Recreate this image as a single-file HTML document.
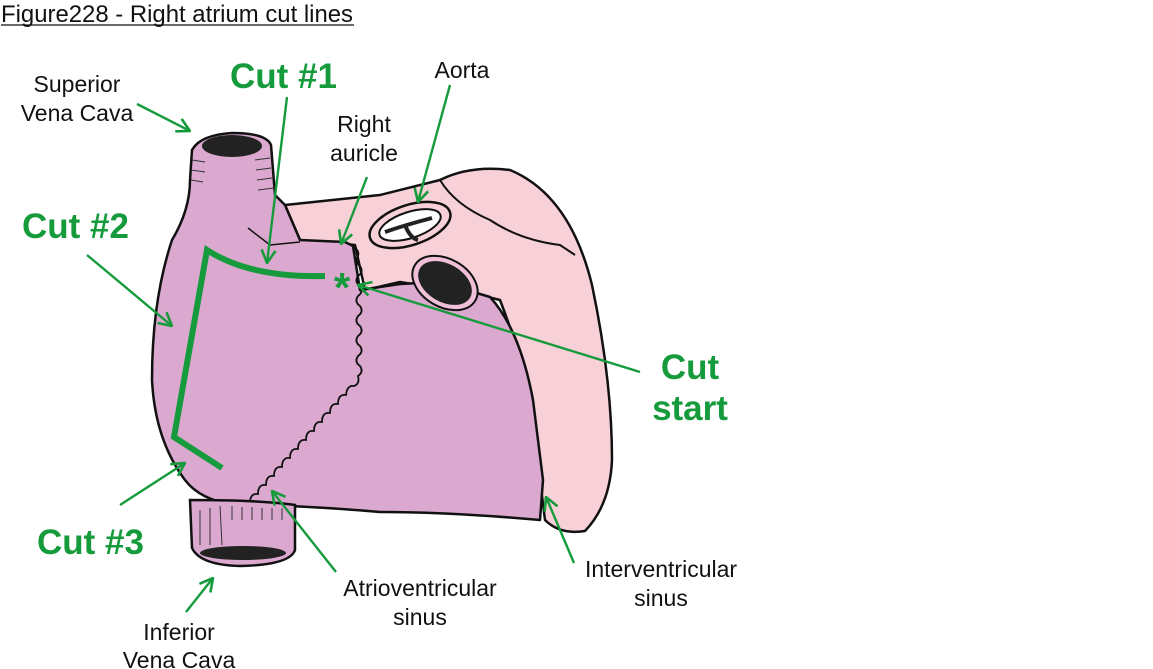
<!DOCTYPE html>
<html><head><meta charset="utf-8"><style>
html,body{margin:0;padding:0;background:#fff;}
svg{display:block;}
text{font-family:"Liberation Sans",Arial,sans-serif;}
</style></head><body>
<svg width="1153" height="669" viewBox="0 0 1153 669" xmlns="http://www.w3.org/2000/svg">
<defs>
<marker id="ah" viewBox="0 0 16 16" refX="15" refY="8" markerWidth="16" markerHeight="16" orient="auto" markerUnits="userSpaceOnUse">
<path d="M2,1 L15,8 L2,15" fill="none" stroke="#169b3c" stroke-width="2.6"/>
</marker>
</defs>
<text x="1" y="22" font-size="24" fill="#111" textLength="352" lengthAdjust="spacingAndGlyphs">Figure228 - Right atrium cut lines</text>
<line x1="1" y1="25" x2="354" y2="25" stroke="#111" stroke-width="1.3"/>

<!-- pink ventricle -->
<path d="M285,205 L380,195 L440,180 Q470,165 510,170 Q570,195 592,285 Q612,380 612,460 Q610,505 585,531 Q560,535 545,520 L540,480 Q535,390 500,300 L480,295 L400,282 L365,290 L355,245 L300,240 Z" fill="#f8d0d8" stroke="#111" stroke-width="2.5" stroke-linejoin="round"/>
<path d="M440,180 Q455,205 490,220 Q520,240 560,245 L575,255" fill="none" stroke="#111" stroke-width="2"/>
<!-- purple body -->
<path d="M192,150 Q200,135 232,133 Q266,133 271,145 L275,195 L285,205 L300,240 L345,242 L353,246 L360,290 L400,284 L440,282 L490,297 Q520,330 533,400 L543,480 L540,520 Q450,512 380,512 Q300,505 235,505 Q200,500 185,480 Q155,440 152,380 Q152,300 172,240 Q190,210 190,180 Z" fill="#dba9cf" stroke="#111" stroke-width="2.5" stroke-linejoin="round"/>
<!-- wavy AV line -->
<path d="M352,246 q8,4 6,10 q-4,6 2,10 q4,6 -2,10 q-4,6 2,10 q4,6 -2,10 q-4,6 2,10 q4,6 -2,10 q-4,6 2,10 q4,6 -2,10 q-4,6 2,10 q4,6 -2,10 q-4,6 2,10 q4,6 -2,10 q2,8 -4,10 q-7,-1 -8,9 q-8,-1 -8,9 q-8,-1 -8,9 q-8,-1 -8,9 q-8,-1 -8,9 q-8,-1 -8,9 q-8,-1 -8,9 q-8,-1 -8,9 q-8,-1 -8,9 q-8,-1 -8,9 q-8,-1 -8,9 q-8,-1 -8,9 q-8,-1 -8,9 q-8,-1 -8,9" fill="none" stroke="#111" stroke-width="1.8"/>
<path d="M248,228 L270,245 L300,242" fill="none" stroke="#111" stroke-width="1.5"/>
<!-- IVC -->
<path d="M190,500 L192,548 Q200,565 240,566 Q290,565 295,550 L295,505 Q260,500 190,500 Z" fill="#dba9cf" stroke="#111" stroke-width="2.5"/>
<ellipse cx="243" cy="553" rx="43" ry="7" fill="#222"/>
<g stroke="#333" stroke-width="1">
<line x1="200" y1="510" x2="200" y2="545"/><line x1="210" y1="508" x2="210" y2="545"/><line x1="220" y1="506" x2="222" y2="545"/><line x1="232" y1="506" x2="232" y2="520"/><line x1="242" y1="507" x2="242" y2="520"/><line x1="252" y1="507" x2="252" y2="520"/><line x1="262" y1="508" x2="262" y2="520"/><line x1="272" y1="508" x2="272" y2="520"/><line x1="282" y1="508" x2="282" y2="520"/>
</g>
<!-- SVC top -->
<ellipse cx="232" cy="146" rx="30" ry="11" fill="#222"/>
<g stroke="#333" stroke-width="1">
<line x1="192" y1="160" x2="205" y2="162"/><line x1="191" y1="170" x2="205" y2="172"/><line x1="191" y1="180" x2="203" y2="182"/><line x1="255" y1="160" x2="270" y2="158"/><line x1="256" y1="170" x2="271" y2="168"/><line x1="257" y1="180" x2="272" y2="178"/><line x1="258" y1="190" x2="274" y2="188"/>
</g>
<!-- aorta -->
<ellipse cx="410" cy="225" rx="42" ry="20" transform="rotate(-18 410 225)" fill="#f8d0d8" stroke="#111" stroke-width="2.5"/>
<ellipse cx="410" cy="225" rx="32" ry="13" transform="rotate(-18 410 225)" fill="#fff" stroke="#111" stroke-width="2"/>
<path d="M385,232 Q405,225 432,218 M405,225 Q410,238 418,240" fill="none" stroke="#222" stroke-width="4"/>
<!-- pulmonary -->
<ellipse cx="445" cy="283" rx="35" ry="24" transform="rotate(30 445 283)" fill="#f0c0d8" stroke="#111" stroke-width="2"/>
<ellipse cx="445" cy="283" rx="29" ry="19" transform="rotate(30 445 283)" fill="#222"/>

<!-- cut lines -->
<path d="M325,276 Q250,278 207,250 L174,437 L222,468" fill="none" stroke="#169b3c" stroke-width="6" stroke-linejoin="miter"/>
<text x="342" y="302" font-size="42" font-weight="bold" fill="#169b3c" text-anchor="middle">*</text>

<!-- arrows -->
<g stroke="#169b3c" stroke-width="2.4" fill="none" marker-end="url(#ah)">
<line x1="137" y1="104" x2="190" y2="131"/>
<line x1="287" y1="97" x2="267" y2="263"/>
<line x1="367" y1="177" x2="341" y2="244"/>
<line x1="450" y1="85" x2="418" y2="202"/>
<line x1="87" y1="255" x2="172" y2="326"/>
<line x1="640" y1="372" x2="358" y2="285"/>
<line x1="120" y1="505" x2="185" y2="463"/>
<line x1="336" y1="572" x2="272" y2="491"/>
<line x1="574" y1="563" x2="546" y2="497"/>
<line x1="186" y1="612" x2="213" y2="578"/>
</g>

<!-- labels -->
<g font-size="23" fill="#111" text-anchor="middle">
<text x="77" y="92">Superior</text>
<text x="77" y="121">Vena Cava</text>
<text x="364" y="132">Right</text>
<text x="364" y="161">auricle</text>
<text x="462" y="78">Aorta</text>
<text x="420" y="596">Atrioventricular</text>
<text x="420" y="625">sinus</text>
<text x="661" y="577">Interventricular</text>
<text x="661" y="606">sinus</text>
<text x="179" y="640">Inferior</text>
<text x="179" y="668">Vena Cava</text>
</g>
<g font-size="35" font-weight="bold" fill="#169b3c">
<text x="230" y="88">Cut #1</text>
<text x="22" y="238">Cut #2</text>
<text x="37" y="554">Cut #3</text>
<text x="690" y="379" text-anchor="middle">Cut</text>
<text x="690" y="420" text-anchor="middle">start</text>
</g>
</svg>
</body></html>
